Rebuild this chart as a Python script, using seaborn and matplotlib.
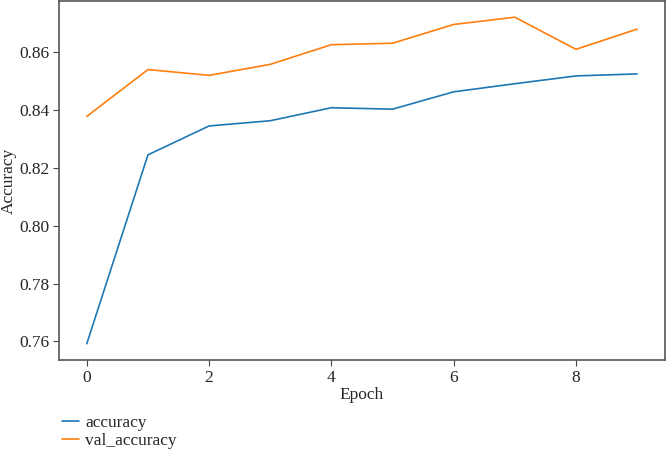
import pandas as pd
import matplotlib
matplotlib.use("Agg")
import matplotlib.pyplot as plt
import seaborn as sns

epochs = [0, 1, 2, 3, 4, 5, 6, 7, 8, 9]
accuracy = [0.7592, 0.8245, 0.8345, 0.8363, 0.8408, 0.8403, 0.8463, 0.8491, 0.8518, 0.8525]
val_accuracy = [0.8378, 0.8540, 0.8520, 0.8558, 0.8626, 0.8631, 0.8696, 0.8721, 0.8610, 0.8680]

df = pd.DataFrame({
    "Epoch": epochs * 2,
    "Accuracy": accuracy + val_accuracy,
    "series": ["accuracy"] * len(epochs) + ["val_accuracy"] * len(epochs),
})

sns.set_style("ticks")
plt.rcParams["font.family"] = ["Liberation Serif", "DejaVu Serif"]
plt.rcParams["font.size"] = 12.5

fig = plt.figure(figsize=(6.66, 4.5), dpi=100)
ax = fig.add_axes([0.089, 0.2, 0.909, 0.798])

sns.lineplot(data=df, x="Epoch", y="Accuracy", hue="series",
             palette=["#1f77b4", "#ff7f0e"], linewidth=1.2, ax=ax, legend=False)

yt = [0.76, 0.78, 0.80, 0.82, 0.84, 0.86]
ax.set_xticks([0, 2, 4, 6, 8])
ax.set_yticks(yt)
ax.set_yticklabels([f"{v:.2f}" for v in yt])
ax.set_xlabel("Epoch", fontsize=12.5, labelpad=1)
ax.set_ylabel("Accuracy", fontsize=12.5)
ax.yaxis.set_label_coords(-0.07, 0.5)
ax.tick_params(labelsize=12.5, color="#444444", length=4, pad=3)
for s in ax.spines.values():
    s.set_visible(True)
    s.set_color("#555555")
    s.set_linewidth(1.2)

handles = ax.get_lines()[:2]
fig.legend(handles, ["accuracy", "val_accuracy"], loc="upper left",
           bbox_to_anchor=(0.093, 0.078), frameon=False, fontsize=12.5,
           handlelength=1.0, handletextpad=0.35, labelspacing=0.12,
           borderaxespad=0, borderpad=0)

fig.savefig("out.png", dpi=100)
